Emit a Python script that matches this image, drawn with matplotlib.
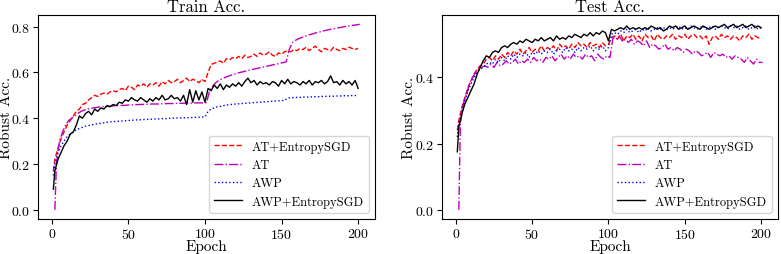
import matplotlib
matplotlib.use("Agg")
import matplotlib.pyplot as plt

plt.rcParams["font.family"] = "serif"
plt.rcParams["font.serif"] = ["cmr10"]
plt.rcParams["mathtext.fontset"] = "cm"
plt.rcParams["axes.formatter.use_mathtext"] = True

# x values: AT is logged one epoch later than the others
EPOCHS = [1] + list(range(2, 201, 2))
AT_EPOCHS = [2] + list(range(3, 202, 2))

LABELS = ["AT+EntropySGD", "AT", "AWP", "AWP+EntropySGD"]

# ---- Train robust accuracy ----
train_at_esgd = [0.17,
    0.22, 0.27, 0.31, 0.34, 0.37, 0.39, 0.41, 0.43, 0.44, 0.46,
    0.465, 0.48, 0.49, 0.50, 0.495, 0.505, 0.51, 0.505, 0.515, 0.52,
    0.515, 0.525, 0.53, 0.52, 0.54, 0.535, 0.525, 0.545, 0.54, 0.55,
    0.535, 0.55, 0.545, 0.555, 0.54, 0.56, 0.55, 0.565, 0.555, 0.56,
    0.57, 0.555, 0.565, 0.575, 0.56, 0.57, 0.565, 0.555, 0.57, 0.56,
    0.60, 0.635, 0.64, 0.645, 0.65, 0.64, 0.66, 0.655, 0.665, 0.66,
    0.67, 0.66, 0.675, 0.665, 0.67, 0.68, 0.67, 0.685, 0.675, 0.68,
    0.69, 0.675, 0.67, 0.685, 0.68, 0.69, 0.695, 0.69, 0.70, 0.695,
    0.705, 0.70, 0.71, 0.695, 0.705, 0.715, 0.70, 0.69, 0.705, 0.70,
    0.695, 0.71, 0.70, 0.695, 0.705, 0.70, 0.71, 0.705, 0.70, 0.705]

train_at = [0.0,
    0.20, 0.30, 0.34, 0.37, 0.39, 0.40, 0.41, 0.42, 0.43, 0.435,
    0.44, 0.442, 0.445, 0.447, 0.449, 0.45, 0.451, 0.452, 0.453, 0.454,
    0.455, 0.456, 0.456, 0.457, 0.458, 0.459, 0.459, 0.46, 0.46, 0.461,
    0.461, 0.462, 0.462, 0.462, 0.463, 0.463, 0.464, 0.464, 0.464, 0.465,
    0.465, 0.465, 0.466, 0.466, 0.466, 0.467, 0.467, 0.467, 0.467, 0.468,
    0.52, 0.54, 0.555, 0.565, 0.572, 0.578, 0.583, 0.588, 0.592, 0.596,
    0.60, 0.603, 0.607, 0.61, 0.613, 0.616, 0.619, 0.622, 0.625, 0.628,
    0.631, 0.634, 0.637, 0.64, 0.643, 0.646, 0.70, 0.73, 0.74, 0.747,
    0.752, 0.757, 0.762, 0.766, 0.77, 0.774, 0.777, 0.781, 0.784, 0.787,
    0.79, 0.792, 0.795, 0.797, 0.80, 0.802, 0.804, 0.806, 0.808, 0.81]

train_awp = [0.15,
    0.20, 0.25, 0.28, 0.30, 0.32, 0.33, 0.34, 0.35, 0.355, 0.36,
    0.365, 0.368, 0.371, 0.374, 0.376, 0.378, 0.38, 0.382, 0.384, 0.385,
    0.386, 0.387, 0.388, 0.389, 0.39, 0.391, 0.392, 0.393, 0.393, 0.394,
    0.395, 0.395, 0.396, 0.397, 0.397, 0.398, 0.398, 0.399, 0.40, 0.40,
    0.401, 0.401, 0.402, 0.402, 0.403, 0.403, 0.404, 0.404, 0.405, 0.406,
    0.43, 0.44, 0.445, 0.45, 0.452, 0.455, 0.457, 0.459, 0.461, 0.462,
    0.463, 0.464, 0.465, 0.466, 0.467, 0.468, 0.469, 0.47, 0.471, 0.472,
    0.473, 0.474, 0.475, 0.476, 0.477, 0.478, 0.488, 0.49, 0.49, 0.491,
    0.491, 0.492, 0.492, 0.493, 0.493, 0.494, 0.494, 0.495, 0.495, 0.496,
    0.496, 0.496, 0.497, 0.497, 0.498, 0.498, 0.498, 0.499, 0.499, 0.50]

train_awp_esgd = [0.09,
    0.17, 0.22, 0.25, 0.28, 0.30, 0.33, 0.34, 0.37, 0.41, 0.40,
    0.42, 0.43, 0.415, 0.44, 0.43, 0.445, 0.44, 0.455, 0.45, 0.46,
    0.455, 0.47, 0.465, 0.48, 0.475, 0.49, 0.48, 0.475, 0.49, 0.48,
    0.47, 0.485, 0.475, 0.49, 0.48, 0.50, 0.48, 0.485, 0.50, 0.485,
    0.49, 0.475, 0.50, 0.46, 0.525, 0.47, 0.52, 0.48, 0.515, 0.47,
    0.53, 0.52, 0.545, 0.53, 0.55, 0.525, 0.545, 0.535, 0.55, 0.54,
    0.555, 0.54, 0.56, 0.575, 0.555, 0.565, 0.545, 0.56, 0.55, 0.555,
    0.545, 0.56, 0.555, 0.54, 0.565, 0.55, 0.57, 0.55, 0.56, 0.555,
    0.545, 0.56, 0.55, 0.565, 0.545, 0.56, 0.555, 0.565, 0.55, 0.56,
    0.585, 0.555, 0.56, 0.545, 0.565, 0.55, 0.56, 0.545, 0.565, 0.53]

# ---- Test robust accuracy ----
test_at_esgd = [0.24,
    0.27, 0.31, 0.34, 0.37, 0.39, 0.41, 0.425, 0.435, 0.44, 0.455,
    0.46, 0.45, 0.465, 0.455, 0.47, 0.46, 0.475, 0.465, 0.48, 0.47,
    0.485, 0.47, 0.48, 0.49, 0.475, 0.485, 0.48, 0.495, 0.48, 0.49,
    0.485, 0.495, 0.48, 0.50, 0.49, 0.495, 0.485, 0.50, 0.49, 0.505,
    0.495, 0.50, 0.49, 0.505, 0.495, 0.50, 0.49, 0.505, 0.495, 0.50,
    0.52, 0.525, 0.515, 0.53, 0.51, 0.525, 0.52, 0.53, 0.515, 0.525,
    0.51, 0.53, 0.52, 0.525, 0.51, 0.53, 0.52, 0.515, 0.525, 0.52,
    0.53, 0.515, 0.525, 0.52, 0.53, 0.515, 0.525, 0.53, 0.52, 0.525,
    0.515, 0.525, 0.50, 0.52, 0.525, 0.515, 0.53, 0.52, 0.525, 0.515,
    0.525, 0.52, 0.51, 0.525, 0.52, 0.53, 0.515, 0.525, 0.52, 0.515]

test_at = [0.0,
    0.26, 0.32, 0.35, 0.38, 0.40, 0.415, 0.425, 0.43, 0.435, 0.43,
    0.44, 0.43, 0.445, 0.435, 0.44, 0.45, 0.44, 0.445, 0.455, 0.44,
    0.45, 0.445, 0.455, 0.445, 0.46, 0.45, 0.455, 0.445, 0.46, 0.455,
    0.465, 0.45, 0.46, 0.47, 0.455, 0.465, 0.455, 0.47, 0.46, 0.465,
    0.455, 0.47, 0.46, 0.465, 0.45, 0.47, 0.46, 0.455, 0.465, 0.46,
    0.52, 0.515, 0.525, 0.51, 0.52, 0.505, 0.515, 0.50, 0.51, 0.505,
    0.495, 0.51, 0.49, 0.50, 0.495, 0.485, 0.49, 0.50, 0.485, 0.49,
    0.48, 0.49, 0.485, 0.475, 0.485, 0.48, 0.47, 0.48, 0.475, 0.465,
    0.47, 0.475, 0.46, 0.475, 0.47, 0.465, 0.47, 0.46, 0.465, 0.455,
    0.465, 0.46, 0.455, 0.445, 0.46, 0.45, 0.44, 0.455, 0.445, 0.445]

test_awp = [0.22,
    0.26, 0.30, 0.33, 0.36, 0.38, 0.40, 0.415, 0.425, 0.43, 0.44,
    0.445, 0.44, 0.455, 0.445, 0.46, 0.45, 0.465, 0.455, 0.47, 0.46,
    0.47, 0.465, 0.475, 0.46, 0.475, 0.47, 0.48, 0.47, 0.48, 0.475,
    0.485, 0.47, 0.48, 0.485, 0.475, 0.49, 0.48, 0.485, 0.475, 0.49,
    0.48, 0.49, 0.485, 0.495, 0.48, 0.49, 0.485, 0.495, 0.48, 0.49,
    0.53, 0.535, 0.53, 0.54, 0.535, 0.545, 0.535, 0.54, 0.545, 0.535,
    0.545, 0.54, 0.55, 0.54, 0.545, 0.55, 0.545, 0.55, 0.545, 0.55,
    0.545, 0.55, 0.555, 0.545, 0.55, 0.545, 0.555, 0.55, 0.545, 0.55,
    0.555, 0.545, 0.55, 0.555, 0.545, 0.55, 0.555, 0.55, 0.545, 0.555,
    0.55, 0.555, 0.545, 0.55, 0.555, 0.545, 0.55, 0.555, 0.545, 0.55]

test_awp_esgd = [0.175,
    0.25, 0.29, 0.32, 0.34, 0.36, 0.38, 0.41, 0.43, 0.45, 0.465,
    0.46, 0.475, 0.48, 0.475, 0.49, 0.495, 0.49, 0.50, 0.505, 0.50,
    0.51, 0.505, 0.515, 0.51, 0.505, 0.515, 0.51, 0.52, 0.51, 0.515,
    0.52, 0.51, 0.525, 0.515, 0.52, 0.515, 0.525, 0.52, 0.53, 0.525,
    0.52, 0.53, 0.525, 0.535, 0.525, 0.535, 0.53, 0.54, 0.535, 0.51,
    0.545, 0.54, 0.545, 0.55, 0.545, 0.555, 0.545, 0.55, 0.545, 0.55,
    0.545, 0.55, 0.545, 0.555, 0.55, 0.545, 0.55, 0.54, 0.545, 0.555,
    0.55, 0.555, 0.545, 0.55, 0.555, 0.545, 0.55, 0.555, 0.55, 0.545,
    0.555, 0.55, 0.545, 0.55, 0.555, 0.55, 0.555, 0.56, 0.55, 0.555,
    0.56, 0.55, 0.555, 0.56, 0.55, 0.555, 0.56, 0.55, 0.555, 0.55]

STYLES = [("r", "--"), ("m", "-."), ("b", ":"), ("k", "-")]


def draw(ax, series, title, label_x):
    xs = [EPOCHS, AT_EPOCHS, EPOCHS, EPOCHS]
    for x, y, (c, ls), lab in zip(xs, series, STYLES, LABELS):
        ax.plot(x, y, color=c, linestyle=ls, linewidth=1.0, label=lab)
    ax.set_title(title, fontsize=12, pad=3)
    ax.set_xlabel("Epoch", fontsize=11, labelpad=-1)
    ax.set_ylabel("Robust Acc.", fontsize=11)
    # put the y label right against the left edge, as in the original
    ax.yaxis.set_label_coords(label_x, 0.5)
    ax.tick_params(labelsize=10, pad=2)
    ax.set_xticks([0, 50, 100, 150, 200])
    ax.legend(loc="lower right", fontsize=9, handlelength=2.2)


fig = plt.figure(figsize=(7.81, 2.55), dpi=100)
ax1 = fig.add_axes([0.0487, 0.137, 0.4315, 0.8])
ax2 = fig.add_axes([0.566, 0.137, 0.430, 0.8])

draw(ax1, [train_at_esgd, train_at, train_awp, train_awp_esgd], "Train Acc.", -0.075)
ax1.set_yticks([0.0, 0.2, 0.4, 0.6, 0.8])
draw(ax2, [test_at_esgd, test_at, test_awp, test_awp_esgd], "Test Acc.", -0.078)
ax2.set_yticks([0.0, 0.2, 0.4])

fig.savefig("out.png", dpi=100)
